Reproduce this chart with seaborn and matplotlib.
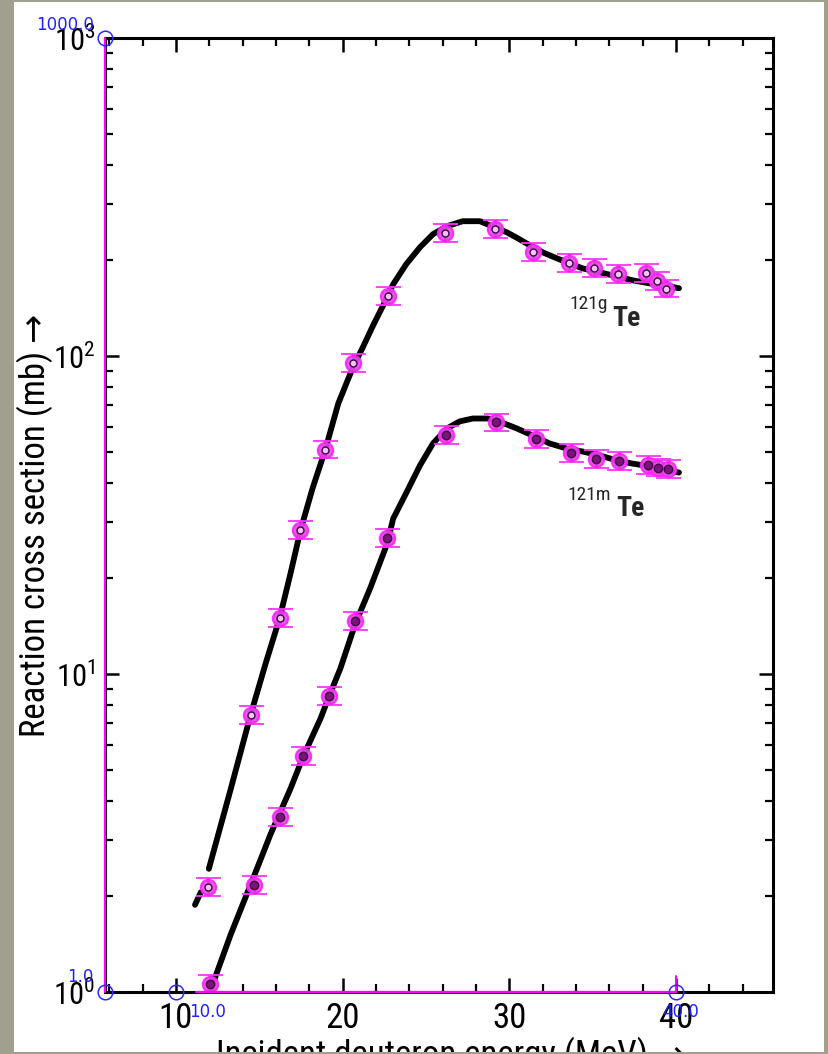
import numpy as np
import pandas as pd
import matplotlib
matplotlib.use('Agg')
import matplotlib.pyplot as plt
import seaborn as sns
from matplotlib import font_manager
from matplotlib.patches import Rectangle
from matplotlib.ticker import FixedLocator, NullFormatter, FixedFormatter

# ---------------- data ----------------
# 121gTe fitted curve (two pieces: short stub + main curve)
g_stub_energy = [11.14, 11.49]
g_stub_sigma = [1.88, 2.06]
g_curve_energy = [11.97, 13.29, 14.48, 15.38, 16.22, 16.87, 17.47, 18.19, 18.96, 19.74,
                  20.64, 21.18, 21.83, 22.43, 23.03, 23.81, 24.64, 25.42, 26.26, 27.21,
                  28.23, 29.12, 29.84, 30.50, 31.22, 31.99, 32.83, 33.61, 34.38, 35.40,
                  36.42, 37.37, 38.39, 39.28, 40.18]
g_curve_sigma = [2.44, 4.36, 7.45, 10.8, 15.0, 20.7, 28.3, 38.3, 50.8, 71.0,
                 92.8, 105.7, 124.9, 144.3, 168.1, 194.3, 219.8, 241.6, 256, 265.4,
                 265.4, 254, 245, 234.6, 223, 212, 203, 195.7, 188.7, 183.4,
                 178.1, 173.1, 169.3, 166.9, 163.3]
# 121mTe fitted curve
m_curve_energy = [12.09, 13.29, 14.66, 15.68, 16.87, 17.65, 18.67, 19.20, 19.86, 20.76,
                  21.65, 22.67, 23.03, 23.86, 24.64, 25.42, 26.26, 27.03, 27.81, 28.71,
                  29.24, 30.44, 31.51, 32.41, 33.43, 34.38, 35.40, 36.42, 37.37, 38.39,
                  39.28, 40.18]
m_curve_sigma = [1.02, 1.52, 2.30, 3.14, 4.36, 5.53, 7.24, 8.55, 10.4, 14.4,
                 18.6, 25.7, 30.8, 37.5, 45.3, 53.1, 59.2, 62.3, 63.6, 63.6,
                 62.7, 59.2, 55.9, 53.1, 51.2, 50.1, 48.7, 47.0, 45.9, 45.0,
                 44.0, 43.0]
g_point_energy = [11.91, 14.48, 16.22, 17.47, 18.97, 20.64, 22.73, 26.14, 29.13, 31.40,
                  33.60, 35.10, 36.50, 38.21, 38.87, 39.40]
g_point_sigma = [2.14, 7.45, 15.0, 28.3, 50.8, 94.8, 154, 243, 250, 212,
                 196, 189, 181, 182, 172, 163]
m_point_energy = [12.03, 14.66, 16.22, 17.65, 19.20, 20.76, 22.67, 26.20, 29.20, 31.60,
                  33.70, 35.20, 36.60, 38.30, 38.90, 39.50]
m_point_sigma = [1.06, 2.17, 3.56, 5.53, 8.54, 14.7, 26.7, 56.6, 61.8, 54.7,
                 49.7, 47.3, 46.6, 45.3, 44.6, 44.0]
error_factor = 1.067

x_major = [10, 20, 30, 40]
x_major_labels = ['10', '20', '30', '40']
x_minor = [6, 8, 12, 14, 16, 18, 22, 24, 26, 28, 32, 34, 36, 38, 42, 44]
y_major = [1, 10, 100, 1000]
y_major_labels = ['$10^{0}$', '$10^{1}$', '$10^{2}$', '$10^{3}$']
y_minor = [m * d for d in (1, 10, 100) for m in range(2, 10)]
x_limits = (5.74, 45.82)
y_limits = (1, 1000)

calib_points = [(x_limits[0], 1000, '1000.0', (-40, 13)),
                (x_limits[0], 1, '1.0', (-25, 15)),
                (10, 1, '10.0', (32, -20)),
                (40, 1, '40.0', (5, -20))]

# ---------------- style ----------------
sns.set_theme(style='ticks')
avail = {f.name for f in font_manager.fontManager.ttflist}
main_font = next(f for f in ['Liberation Sans Narrow', 'Roboto Condensed', 'Liberation Sans',
                             'DejaVu Sans'] if f in avail)
plt.rcParams['font.family'] = [main_font, 'DejaVu Sans']
plt.rcParams['mathtext.fontset'] = 'custom'
plt.rcParams['mathtext.rm'] = main_font
plt.rcParams['mathtext.it'] = main_font
plt.rcParams['mathtext.bf'] = main_font

W, H = 829, 1054
fig = plt.figure(figsize=(W / 100, H / 100), dpi=100, facecolor='#a19f8e')
fig.patches.append(Rectangle((14 / W, 2 / H), 810 / W, 1050 / H, transform=fig.transFigure,
                             facecolor='white', edgecolor='none', zorder=-5))
ax = fig.add_axes([105 / W, 62 / H, (773 - 105) / W, (992 - 38) / H])
ax.set_facecolor('white')

# curves
g_df = pd.DataFrame({'E': g_stub_energy + g_curve_energy,
                     'S': g_stub_sigma + g_curve_sigma,
                     'seg': [0] * len(g_stub_energy) + [1] * len(g_curve_energy)})
m_df = pd.DataFrame({'E': m_curve_energy, 'S': m_curve_sigma, 'seg': 0})
for df in (g_df, m_df):
    sns.lineplot(data=df, x='E', y='S', units='seg', estimator=None, sort=False,
                 color='black', lw=4.2, ax=ax, legend=False, zorder=2,
                 solid_joinstyle='round', solid_capstyle='round')

# points with error caps
for E, S, inner_face, inner_size in ((g_point_energy, g_point_sigma, '#f6c4f6', 5.0),
                                     (m_point_energy, m_point_sigma, '#7a147a', 6.0)):
    E = np.array(E); S = np.array(S)
    yerr = np.vstack([S - S / error_factor, S * error_factor - S])
    ax.errorbar(E, S, yerr=yerr, fmt='none', ecolor='black', elinewidth=2.0,
                capsize=0, zorder=3)
    ax.errorbar(E, S, yerr=yerr, fmt='none', ecolor='#ff33ff', elinewidth=0,
                capsize=9, capthick=1.3, zorder=4)
    sns.scatterplot(x=E, y=S, s=120, color='#e150e1', edgecolor='#ff22ff',
                    linewidth=1.6, alpha=0.92, ax=ax, zorder=5)
    ax.plot(E, S, 'o', ms=inner_size, mfc=inner_face, mec='#4a004a', mew=1.0, zorder=6)

# calibration overlay (digitiser)
ax.plot([x_limits[0], x_limits[0]], [1, 1000], color='#ff00ff', lw=1.6, zorder=7, clip_on=False)
ax.plot([11.2, 40], [1, 1], color='#ff00ff', lw=1.6, zorder=7, clip_on=False)
ax.plot([40, 40], [1, 1.12], color='#ff00ff', lw=1.4, zorder=7, clip_on=False)
for cx, cy, lab, off in calib_points:
    ax.plot(cx, cy, 'o', ms=10.5, mfc='none', mec='#2a2aff', mew=1.1, zorder=8, clip_on=False)
    ax.annotate(lab, (cx, cy), xytext=off, textcoords='offset pixels', color='#2020ff',
                fontsize=12, ha='center', va='center', family='DejaVu Sans',
                annotation_clip=False, zorder=9)

# isotope labels
ax.text(34.75, 146, '121g', fontsize=14, ha='center', va='center')
ax.text(37.00, 131, 'Te', fontsize=20, ha='center', va='center', fontweight='bold')
ax.text(34.80, 36.6, '121m', fontsize=14, ha='center', va='center')
ax.text(37.25, 33.2, 'Te', fontsize=20, ha='center', va='center', fontweight='bold')

# axes
ax.set_yscale('log')
ax.set_xlim(*x_limits)
ax.set_ylim(*y_limits)
ax.xaxis.set_major_locator(FixedLocator(x_major))
ax.xaxis.set_major_formatter(FixedFormatter(x_major_labels))
ax.xaxis.set_minor_locator(FixedLocator(x_minor))
ax.xaxis.set_minor_formatter(NullFormatter())
ax.yaxis.set_major_locator(FixedLocator(y_major))
ax.yaxis.set_major_formatter(FixedFormatter(y_major_labels))
ax.yaxis.set_minor_locator(FixedLocator(y_minor))
ax.yaxis.set_minor_formatter(NullFormatter())
ax.tick_params(which='both', direction='in', top=True, right=True, colors='black')
ax.tick_params(axis='x', which='major', labelsize=25)
ax.tick_params(axis='y', which='major', labelsize=22)
ax.tick_params(which='major', length=10, width=1.8, pad=7)
ax.tick_params(which='minor', length=5.5, width=1.6)
for sp in ax.spines.values():
    sp.set_visible(True)
    sp.set_linewidth(2.2)
    sp.set_color('black')
ax.set_xlabel('')
ax.set_ylabel('')

fig.text(35 / W, 1 - 525 / H, 'Reaction cross section (mb) \u2192', rotation=90,
         fontsize=25, ha='center', va='center', color='black')
fig.text(451 / W, -11 / H, 'Incident deuteron energy (MeV) \u2192', fontsize=25,
         ha='center', va='baseline', color='black')
fig.patches.append(Rectangle((0, 0), 1, 2 / H, transform=fig.transFigure,
                             facecolor='#a19f8e', edgecolor='none', zorder=10))

fig.savefig('out.png', dpi=100, facecolor=fig.get_facecolor())
